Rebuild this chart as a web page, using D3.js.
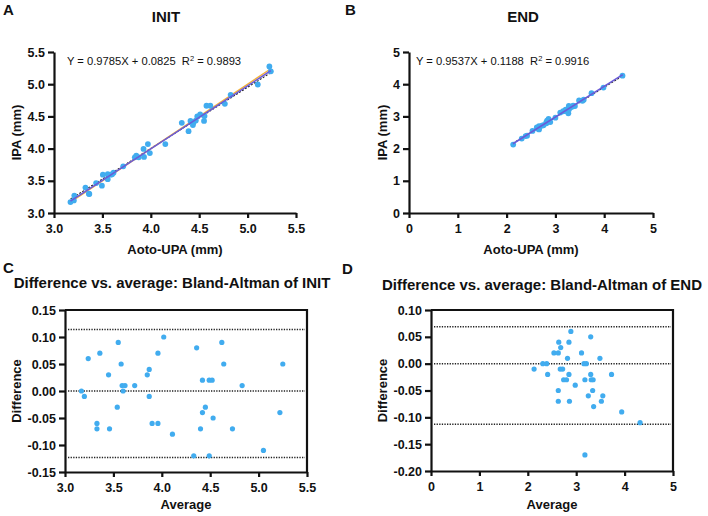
<!DOCTYPE html>
<html>
<head>
<meta charset="utf-8">
<script src="https://cdn.jsdelivr.net/npm/d3@7"></script>
<style>
body { margin: 0; background: #fff; }
text { font-family: Arial, "Liberation Sans", Helvetica, sans-serif; fill: #111; }
.eq { white-space: pre; }
</style>
</head>
<body>
<script>
// INIT: Aoto-UPA (x) vs IPA (y), mm
const initAoto = [3.17, 3.205, 3.21, 3.325, 3.36, 3.365, 3.435, 3.495, 3.505, 3.555,
    3.555, 3.585, 3.615, 3.60, 3.715, 3.835, 3.85, 3.875, 3.93, 3.925,
    3.99, 3.97, 4.15, 4.39, 4.32, 4.435, 4.41, 4.44, 4.465, 4.48,
    4.51, 4.55, 4.555, 4.575, 4.615, 4.765, 4.825, 5.105, 5.24, 5.225];
const initIpa = [3.17, 3.195, 3.27, 3.395, 3.30, 3.295, 3.465, 3.425, 3.595, 3.605,
    3.525, 3.595, 3.625, 3.60, 3.725, 3.865, 3.89, 3.865, 3.87, 3.995,
    3.93, 4.07, 4.07, 4.27, 4.40, 4.365, 4.43, 4.40, 4.435, 4.50,
    4.53, 4.43, 4.505, 4.665, 4.665, 4.695, 4.835, 4.995, 5.20, 5.275];

// END: Aoto-UPA (x) vs IPA (y), mm
const endAoto = [2.135, 2.31, 2.39, 2.42, 2.53, 2.62, 2.62, 2.665, 2.675, 2.725,
    2.655, 2.665, 2.755, 2.815, 2.815, 2.83, 2.86, 2.86, 2.895, 3.00,
    3.10, 3.16, 3.21, 3.195, 3.265, 3.28, 3.275, 3.31, 3.325, 3.365,
    3.365, 3.40, 3.485, 3.58, 3.555, 3.74, 3.985, 4.375];
const endIpa = [2.125, 2.31, 2.39, 2.40, 2.55, 2.64, 2.66, 2.695, 2.665, 2.715,
    2.605, 2.595, 2.725, 2.785, 2.825, 2.87, 2.92, 2.84, 2.825, 2.96,
    3.12, 3.16, 3.21, 3.165, 3.095, 3.22, 3.325, 3.29, 3.295, 3.335,
    3.315, 3.32, 3.495, 3.52, 3.485, 3.72, 3.895, 4.265];

// Bland-Altman INIT
const baInitAvg = [3.17, 3.20, 3.24, 3.36, 3.33, 3.33, 3.45, 3.46, 3.55, 3.58,
    3.54, 3.59, 3.62, 3.60, 3.72, 3.85, 3.87, 3.87, 3.90, 3.96,
    3.96, 4.02, 4.11, 4.33, 4.36, 4.40, 4.42, 4.42, 4.45, 4.49,
    4.52, 4.49, 4.53, 4.62, 4.64, 4.73, 4.83, 5.05, 5.22, 5.25];
const baInitDiff = [0.00, -0.01, 0.06, 0.07, -0.06, -0.07, 0.03, -0.07, 0.09, 0.05,
    -0.03, 0.01, 0.01, 0.00, 0.01, 0.03, 0.04, -0.01, -0.06, 0.07,
    -0.06, 0.10, -0.08, -0.12, 0.08, -0.07, 0.02, -0.04, -0.03, 0.02,
    0.02, -0.12, -0.05, 0.09, 0.05, -0.07, 0.01, -0.11, -0.04, 0.05];

// Bland-Altman END
const baEndAvg = [2.13, 2.31, 2.39, 2.41, 2.54, 2.63, 2.64, 2.68, 2.67, 2.72,
    2.63, 2.63, 2.74, 2.80, 2.82, 2.85, 2.89, 2.85, 2.86, 2.98,
    3.11, 3.16, 3.21, 3.18, 3.18, 3.25, 3.30, 3.30, 3.31, 3.35,
    3.34, 3.36, 3.49, 3.55, 3.52, 3.73, 3.94, 4.32];
const baEndDiff = [-0.01, 0.00, 0.00, -0.02, 0.02, 0.02, 0.04, 0.03, -0.01, -0.01,
    -0.05, -0.07, -0.03, -0.03, 0.01, 0.04, 0.06, -0.02, -0.07, -0.04,
    0.02, 0.00, 0.00, -0.03, -0.17, -0.06, 0.05, -0.02, -0.03, -0.03,
    -0.05, -0.08, 0.01, -0.06, -0.07, -0.02, -0.09, -0.11];

// reference lines (x, y pairs)
const initFitLine = [[3.17, 3.184], [5.24, 5.210]];
const initIdentityLine = [[3.17, 3.17], [5.24, 5.24]];
const initDashLine = [[3.17, 3.215], [5.24, 5.18]];
const endFitLine = [[2.13, 2.150], [4.38, 4.296]];
const endDashLine = [[2.13, 2.165], [4.38, 4.26]];

// bias and limits of agreement
const baInitLines = [0.114, 0.0, -0.123];
const baEndLines = [0.069, 0.0, -0.113];

// tick values
const initTicks = [3.0, 3.5, 4.0, 4.5, 5.0, 5.5];
const endTicks = [0, 1, 2, 3, 4, 5];
const baInitYTicks = [-0.15, -0.10, -0.05, 0.00, 0.05, 0.10, 0.15];
const baEndYTicks = [-0.20, -0.15, -0.10, -0.05, 0.00, 0.05, 0.10];

const colorePunti = "#41acef";

const svg = d3.select("body")
    .append("svg")
    .attr("width", 708)
    .attr("height", 516);

// disegna gli assi di un pannello
function disegnaAssi(x, y, xTicks, yTicks, fmtX, fmtY, box) {
    let asseX = d3.axisBottom(x).tickValues(xTicks).tickFormat(fmtX)
        .tickSize(5).tickSizeOuter(0).tickPadding(6);
    let asseY = d3.axisLeft(y).tickValues(yTicks).tickFormat(fmtY)
        .tickSize(6).tickSizeOuter(0).tickPadding(3);

    let gx = svg.append("g")
        .attr("transform", `translate(0,${y.range()[0]})`)
        .call(asseX);
    let gy = svg.append("g")
        .attr("transform", `translate(${x.range()[0]},0)`)
        .call(asseY);

    [gx, gy].forEach(function (g) {
        g.select(".domain").attr("stroke", "#111").attr("stroke-width", 2.2);
        g.selectAll(".tick line").attr("stroke", "#111").attr("stroke-width", 2.2);
        g.selectAll(".tick text")
            .attr("font-size", 12.5)
            .attr("font-weight", "bold")
            .attr("font-family", "Arial, 'Liberation Sans', sans-serif")
            .attr("fill", "#111");
    });

    if (box) {
        svg.append("path")
            .attr("d", `M${x.range()[0]},${y.range()[1]}H${x.range()[1]}V${y.range()[0]}`)
            .attr("fill", "none")
            .attr("stroke", "#111")
            .attr("stroke-width", 2.2);
    }
}

function etichette(x, y, lettera, lx, ly, titolo, ty, xLabel, xy, yLabel, yx) {
    let cx = (x.range()[0] + x.range()[1]) / 2;
    let cy = (y.range()[0] + y.range()[1]) / 2;
    svg.append("text").attr("x", lx).attr("y", ly)
        .attr("font-size", 15).attr("font-weight", "bold").text(lettera);
    svg.append("text").attr("x", titolo.cx).attr("y", ty)
        .attr("text-anchor", "middle")
        .attr("font-size", 15).attr("font-weight", "bold").text(titolo.t);
    svg.append("text").attr("x", cx).attr("y", xy)
        .attr("text-anchor", "middle")
        .attr("font-size", 13).attr("font-weight", "bold").text(xLabel);
    svg.append("text")
        .attr("transform", `translate(${yx},${cy}) rotate(-90)`)
        .attr("text-anchor", "middle")
        .attr("font-size", 13).attr("font-weight", "bold").text(yLabel);
}

function equazione(x0, y0, testo, r2) {
    let t = svg.append("text").attr("class", "eq")
        .attr("x", x0).attr("y", y0).attr("font-size", 11.2);
    t.append("tspan").text(testo + "  R");
    t.append("tspan").attr("font-size", 7.5).attr("dy", -4.5).text("2");
    t.append("tspan").attr("dy", 4.5).text(" = " + r2);
}

function punti(dx, dy, x, y, r) {
    svg.append("g").selectAll("circle")
        .data(dx)
        .enter()
        .append("circle")
        .attr("cx", function (d) { return x(d) })
        .attr("cy", function (d, i) { return y(dy[i]) })
        .attr("r", r)
        .attr("fill", colorePunti);
}

function linea(dati, x, y, colore, larghezza, tratteggio) {
    let gen = d3.line()
        .x(function (d) { return x(d[0]) })
        .y(function (d) { return y(d[1]) });
    svg.append("path")
        .datum(dati)
        .attr("d", gen)
        .attr("fill", "none")
        .attr("stroke", colore)
        .attr("stroke-width", larghezza)
        .attr("stroke-dasharray", tratteggio);
}

function lineeBA(valori, x, y) {
    valori.forEach(function (v) {
        svg.append("line")
            .attr("x1", x.range()[0] + 3)
            .attr("x2", x.range()[1] - 2)
            .attr("y1", y(v))
            .attr("y2", y(v))
            .attr("stroke", "#222")
            .attr("stroke-width", 1.5)
            .attr("stroke-dasharray", "1.3,1.3");
    });
}

const fmt1 = d3.format(".1f");
const fmt0 = d3.format("d");
const fmt2 = function (d) { return d3.format(".2f")(d).replace("−", "-") };

// ---------- A: INIT ----------
let xA = d3.scaleLinear().domain([3, 5.5]).range([54, 296]);
let yA = d3.scaleLinear().domain([3, 5.5]).range([213, 52]);
linea(initDashLine, xA, yA, "#222", 1.1, "2,1.5");
linea(initIdentityLine, xA, yA, "#f2b13a", 1.4, null);
punti(initAoto, initIpa, xA, yA, 2.9);
linea(initFitLine, xA, yA, "#6a5ad8", 1.6, null);
disegnaAssi(xA, yA, initTicks, initTicks, fmt1, fmt1, false);
etichette(xA, yA, "A", 3, 15, { t: "INIT", cx: 166 }, 22, "Aoto-UPA (mm)", 254, "IPA (mm)", 21);
equazione(67, 65, "Y = 0.9785X + 0.0825", "0.9893");

// ---------- B: END ----------
let xB = d3.scaleLinear().domain([0, 5]).range([409, 653]);
let yB = d3.scaleLinear().domain([0, 5]).range([213, 52]);
linea(endDashLine, xB, yB, "#222", 1.1, "2,1.5");
punti(endAoto, endIpa, xB, yB, 2.9);
linea(endFitLine, xB, yB, "#6a5ad8", 1.6, null);
disegnaAssi(xB, yB, endTicks, endTicks, fmt0, fmt0, false);
etichette(xB, yB, "B", 345, 15, { t: "END", cx: 523 }, 22, "Aoto-UPA (mm)", 254, "IPA (mm)", 387);
equazione(416, 65, "Y = 0.9537X + 0.1188", "0.9916");

// ---------- C: Bland-Altman INIT ----------
let xC = d3.scaleLinear().domain([3, 5.5]).range([65, 307]);
let yC = d3.scaleLinear().domain([-0.15, 0.15]).range([472, 310]);
lineeBA(baInitLines, xC, yC);
punti(baInitAvg, baInitDiff, xC, yC, 2.6);
disegnaAssi(xC, yC, initTicks, baInitYTicks, fmt1, fmt2, true);
etichette(xC, yC, "C", 3, 273, { t: "Difference vs. average: Bland-Altman of INIT", cx: 172 }, 288,
    "Average", 509, "Difference", 21);

// ---------- D: Bland-Altman END ----------
let xD = d3.scaleLinear().domain([0, 5]).range([431, 673]);
let yD = d3.scaleLinear().domain([-0.20, 0.10]).range([471, 310]);
lineeBA(baEndLines, xD, yD);
punti(baEndAvg, baEndDiff, xD, yD, 2.6);
disegnaAssi(xD, yD, endTicks, baEndYTicks, fmt0, fmt2, true);
etichette(xD, yD, "D", 342, 274, { t: "Difference vs. average: Bland-Altman of END", cx: 542 }, 290,
    "Average", 509, "Difference", 387);
</script>
</body>
</html>
